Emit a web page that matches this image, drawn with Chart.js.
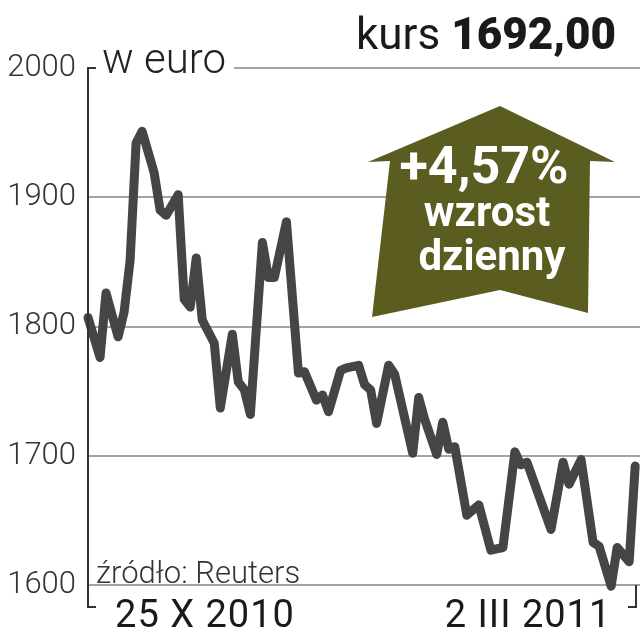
<!DOCTYPE html>
<html>
<head>
<meta charset="utf-8">
<script src="https://cdn.jsdelivr.net/npm/chart.js@4.4.1/dist/chart.umd.min.js"></script>
<style>
  body { margin: 0; background: #fff; }
  #wrap { position: relative; width: 640px; height: 640px; overflow: hidden; font-family: Roboto, "Liberation Sans", sans-serif; color: #222; }
  #wrap canvas { position: absolute; left: 0; top: 0; }
  .lbl { position: absolute; white-space: nowrap; }
  #kurs { right: 24px; top: 12px; font-size: 44px; line-height: 44px; color: #1a1a1a; }
  #kurs b { font-weight: 900; }
  #unit { left: 96px; top: 38px; width: 138px; font-size: 42px; line-height: 42px; font-weight: 300; background: #fff; padding-left: 6px; box-sizing: border-box; }
  #src { left: 96px; top: 557px; font-size: 31px; line-height: 31px; font-weight: 300; color: #333; }
  .xl { top: 595px; font-size: 38px; line-height: 38px; letter-spacing: 1px; color: #1a1a1a; transform: translateX(-50%); }
  #arrow { position: absolute; left: 368px; top: 105px; width: 248px; height: 213px; background: #5a5d1f;
    clip-path: polygon(132px 1px, 247px 57px, 222px 56px, 220px 208px, 132px 185px, 4px 212px, 22px 56px, 0px 57px); }
  .at { position: absolute; color: #fff; font-weight: 700; transform: translateX(-50%); text-align: center; }
</style>
</head>
<body>
<div id="wrap">
  <canvas id="myChart" width="640" height="640"></canvas>
  <div id="arrow"></div>
  <div class="at" style="left:484px; top:140px; font-size:52px; line-height:52px;">+4,57%</div>
  <div class="at" style="left:487px; top:191px; font-size:42px; line-height:42px;">wzrost</div>
  <div class="at" style="left:492px; top:235px; font-size:42px; line-height:42px;">dzienny</div>
  <div class="lbl" id="kurs">kurs <b>1692,00</b></div>
  <div class="lbl" id="unit">w euro</div>
  <div class="lbl" id="src">źródło: Reuters</div>
</div>
<script>
// notowania, dni sesyjne od 25 X 2010 do 2 III 2011
const dni = [0, 2, 3, 5, 6, 7, 8, 9, 11, 12, 13, 15, 16, 17, 18, 19, 21, 22, 24, 25, 26, 27, 29, 30, 31, 33,
    35, 36, 38, 39, 40, 42, 43, 45, 46, 47, 48, 50, 51, 54, 55, 56, 58, 59, 60, 61,
    63, 65, 67, 69, 71, 72, 73, 77, 79, 80, 82, 84, 85, 87, 88, 90, 91];
const kursy = [1807, 1776, 1826, 1792, 1811, 1851, 1942, 1951, 1919, 1890, 1886, 1902, 1821, 1815, 1853, 1805, 1787, 1737, 1794, 1757, 1751, 1732, 1865, 1838, 1838, 1881,
    1764, 1765, 1743, 1747, 1734, 1766, 1768, 1770, 1755, 1751, 1725, 1770, 1763, 1702, 1745, 1728, 1701, 1726, 1705, 1707,
    1654, 1662, 1627, 1629, 1703, 1693, 1695, 1643, 1695, 1678, 1697, 1633, 1630, 1599, 1629, 1618, 1692];
const yTicks = [1600, 1700, 1800, 1900, 2000];
const xLabels = ['25 X 2010', '2 III 2011'];
const xLabelPos = [205, 528];

xLabels.forEach((t, i) => {
    const d = document.createElement('div');
    d.className = 'lbl xl';
    d.style.left = xLabelPos[i] + 'px';
    d.textContent = t;
    document.getElementById('wrap').appendChild(d);
});

// ramka osi: pionowa linia z lewej + "klamry" na dole
const ramka = {
    id: 'ramka',
    afterDraw(chart) {
        const c = chart.ctx, a = chart.chartArea, y = chart.scales.y;
        const top = y.getPixelForValue(2000), bot = y.getPixelForValue(1600) + 22;
        c.save();
        c.strokeStyle = '#333';
        c.lineWidth = 2;
        c.beginPath();
        c.moveTo(a.left + 8, top);
        c.lineTo(a.left, top);
        c.lineTo(a.left, bot);
        c.lineTo(a.left + 8, bot);
        c.moveTo(a.right - 4, y.getPixelForValue(1600));
        c.lineTo(a.right - 4, bot);
        c.lineTo(a.right - 12, bot);
        c.stroke();
        c.restore();
    }
};

const ctx = document.getElementById('myChart').getContext('2d');
const myChart = new Chart(ctx, {
    type: 'line',
    data: {
        datasets: [{
            data: dni.map((d, i) => ({ x: d, y: kursy[i] })),
            borderColor: '#454545',
            borderWidth: 9,
            pointRadius: 0,
            tension: 0,
            borderJoinStyle: 'round',
            borderCapStyle: 'round',
            clip: false
        }]
    },
    options: {
        responsive: false,
        animation: false,
        layout: { padding: { top: 68, bottom: 55, left: 0, right: 0 } },
        plugins: { legend: { display: false }, tooltip: { enabled: false } },
        scales: {
            x: { type: 'linear', min: 0, max: 91.8, display: false },
            y: {
                min: 1600,
                max: 2000,
                afterBuildTicks: s => { s.ticks = yTicks.map(v => ({ value: v })); },
                afterFit: s => { s.width = 88; },
                border: { display: false },
                grid: { color: '#a4a4a4', lineWidth: 2, drawTicks: false },
                ticks: {
                    padding: 12,
                    color: '#333',
                    font: { family: 'Roboto', size: 31, weight: 300 },
                    callback: v => String(v)
                }
            }
        }
    },
    plugins: [ramka]
});
</script>
</body>
</html>
